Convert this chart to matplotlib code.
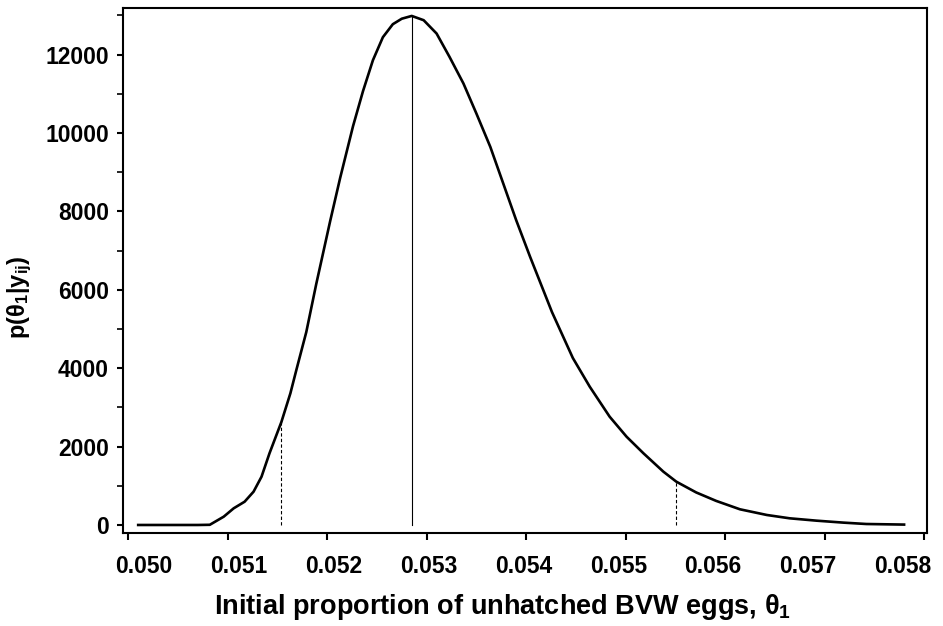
import matplotlib
matplotlib.use("Agg")
import matplotlib.pyplot as plt
from matplotlib.ticker import MultipleLocator

plt.rcParams['font.family'] = ['Liberation Sans', 'DejaVu Sans']
plt.rcParams['mathtext.default'] = 'regular'

# posterior density
theta = [0.05010, 0.05040, 0.05070, 0.05082, 0.05096, 0.05106, 0.05117, 0.05126,
         0.05134, 0.05142, 0.05154, 0.05163, 0.05169, 0.05179, 0.05189, 0.05203,
         0.05213, 0.05220, 0.05226, 0.05236, 0.05246, 0.05256, 0.05266, 0.05275,
         0.05285, 0.05297, 0.05310, 0.05323, 0.05337, 0.05350, 0.05364, 0.05377,
         0.05390, 0.05404, 0.05426, 0.05447, 0.05464, 0.05484, 0.05501, 0.05518,
         0.05538, 0.05551, 0.05571, 0.05591, 0.05615, 0.05642, 0.05665, 0.05692,
         0.05719, 0.05742, 0.05780]
dens = [0, 0, 0, 5, 212, 425, 594, 850,
        1232, 1828, 2630, 3358, 3953, 4922, 6146, 7752,
        8849, 9563, 10175, 11067, 11858, 12444, 12776, 12916,
        12987, 12878, 12538, 11942, 11263, 10498, 9647, 8713,
        7778, 6842, 5432, 4259, 3527, 2762, 2252, 1828,
        1360, 1105, 830, 615, 400, 255, 170, 110,
        60, 25, 10]

mode_x, mode_y = 0.05285, 12987
lo_x, lo_y = 0.05154, 2630
hi_x, hi_y = 0.05551, 1105

xticks = [0.050, 0.051, 0.052, 0.053, 0.054, 0.055, 0.056, 0.057, 0.058]
xlabels = ["0.050", "0.051", "0.052", "0.053", "0.054", "0.055", "0.056", "0.057", "0.058"]
yticks = [0, 2000, 4000, 6000, 8000, 10000, 12000]

fig = plt.figure(figsize=(9.43, 6.26), dpi=100)
ax = fig.add_axes([0.1304, 0.1486, 0.8526, 0.8386])

ax.plot(theta, dens, color="black", lw=1.9, solid_joinstyle="round")
ax.plot([mode_x, mode_x], [0, mode_y], color="black", lw=0.8)
ax.plot([lo_x, lo_x], [0, lo_y], color="black", lw=0.8, ls=(0, (3, 2)))
ax.plot([hi_x, hi_x], [0, hi_y], color="black", lw=0.8, ls=(0, (3, 2)))

ax.set_xlim(0.049947, 0.05803)
ax.set_ylim(-204, 13189)

ax.set_xticks(xticks)
ax.set_xticklabels([])
# printed labels sit a little closer together than the tick marks
xtr = ax.get_xaxis_transform()
for i, (t, s) in enumerate(zip(xticks, xlabels)):
    ax.text(t + 0.000158 - 0.0000462 * i, -0.063, s, transform=xtr,
            ha="center", va="center", fontsize=16.5, fontweight="bold",
            clip_on=False)

ax.set_yticks(yticks)
ax.yaxis.set_minor_locator(MultipleLocator(1000))

for s in ax.spines.values():
    s.set_linewidth(1.5)
ax.tick_params(axis="x", which="major", direction="out", length=5, width=1.5)
ax.tick_params(axis="y", which="major", direction="out", length=4, width=1.5,
               pad=6, labelsize=16.5)
ax.tick_params(axis="y", which="minor", direction="out", length=4, width=1.2)
for lab in ax.get_yticklabels():
    lab.set_fontweight("bold")

ax.set_xlabel(r"Initial proportion of unhatched BVW eggs, $\theta_1$",
              fontsize=19.5, fontweight="bold", labelpad=34, x=0.4726)
ax.set_ylabel(r"p($\theta_1$|y$_{ij}$)", fontsize=17, fontweight="bold",
              labelpad=8, y=0.45)

fig.savefig("out.png", dpi=100)
